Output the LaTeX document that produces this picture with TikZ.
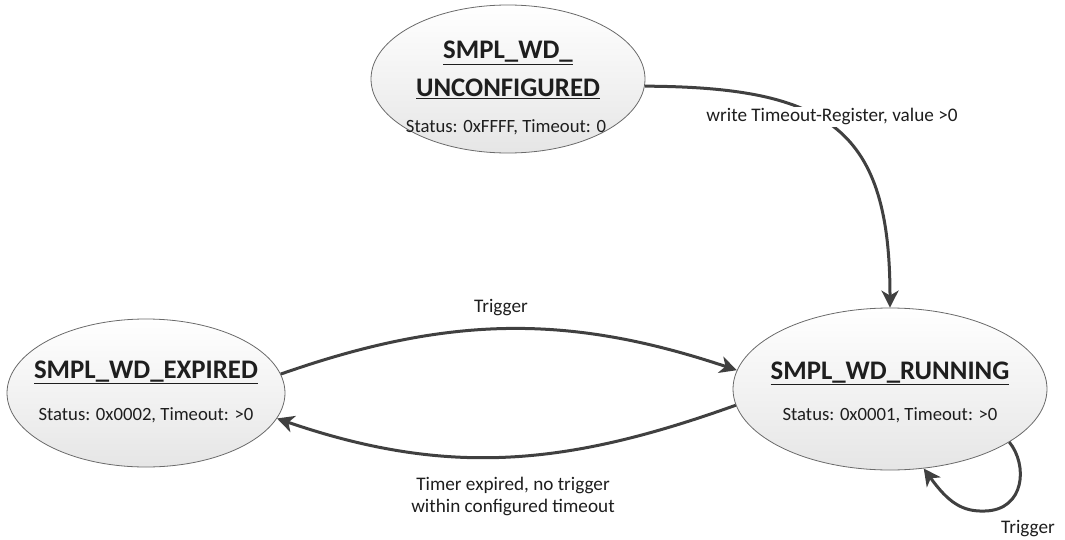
\documentclass[tikz,border=0pt]{standalone}
\usepackage{fontspec}
\setmainfont{Carlito}
\usetikzlibrary{arrows.meta,shapes.geometric}
\definecolor{edgegray}{HTML}{404040}
\definecolor{rimgray}{HTML}{6A6A6A}
\definecolor{txtgray}{HTML}{1E1E1E}
\begin{document}
\begin{tikzpicture}[x=1pt,y=-1pt,
  state/.style n args={2}{ellipse, draw=rimgray, line width=0.8pt,
    top color=white, bottom color=black!10, inner sep=0pt,
    minimum width=#1, minimum height=#2},
  titletext/.style={anchor=base, font=\fontsize{26.8}{30}\selectfont\bfseries, text=txtgray, inner sep=0pt},
  stattext/.style={anchor=base, font=\fontsize{18.7}{22}\selectfont, text=txtgray, inner sep=0pt},
  lbl/.style={anchor=base, font=\fontsize{19.2}{22}\selectfont, text=txtgray, inner sep=0pt},
  trans/.style={draw=edgegray, line width=3pt, -{Stealth[length=17pt,width=17pt,inset=5pt]}}
]
\useasboundingbox (0,0) rectangle (1065,540);

% states
\node[state={274}{148}] (unc) at (508,79) {};
\node[state={278}{148}] (exp) at (146,393) {};
\node[state={314}{162}] (run) at (890,389) {};

% state texts
\node[titletext] (uncT1) at (508,59) {\underline{SMPL\_WD\_}};
\node[titletext] (uncT2) at (508,97) {\underline{UNCONFIGURED}};
\node[stattext]  (uncS)  at (506,133) {Status: 0xFFFF, Timeout: 0};

\node[titletext] (expT) at (146,378) {\underline{SMPL\_WD\_EXPIRED}};
\node[stattext]  (expS) at (146,420) {Status: 0x0002, Timeout: >0};

\node[titletext] (runT) at (890,379) {\underline{SMPL\_WD\_RUNNING}};
\node[stattext]  (runS) at (890,420) {Status: 0x0001, Timeout: >0};

% transitions
\draw[trans] (unc.-3) .. controls (830,87) and (890,130) .. (run.north);
\node[lbl, fill=white, inner sep=2pt] (l1) at (832,122) {write Timeout-Register, value >0};

\draw[trans] (exp.8) .. controls (449,315) and (569,314) .. (run.173);
\node[lbl] (l2) at (501,312) {Trigger};

\draw[trans] (run.186) .. controls (569,465) and (450,478) .. (exp.-11);
\node[lbl] (l3a) at (513,490) {Timer expired, no trigger};
\node[lbl] (l3b) at (513,512) {within configured timeout};

\draw[trans] (run.-24) .. controls (1028,465) and (1025,510) .. (985,511)
  .. controls (962,512) and (948,502) .. (run.-67);
\node[lbl] (l4) at (1028,533) {Trigger};
\end{tikzpicture}
\end{document}
